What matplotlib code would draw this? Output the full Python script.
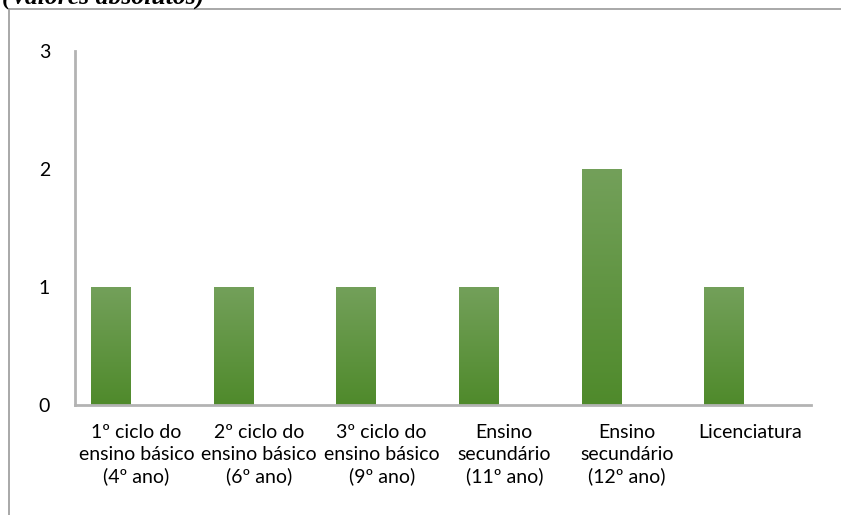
import matplotlib
matplotlib.use("Agg")
import matplotlib.pyplot as plt
import numpy as np
from matplotlib.colors import LinearSegmentedColormap
from matplotlib.lines import Line2D

categories = ["1º ciclo do\nensino básico\n(4º ano)",
              "2º ciclo do\nensino básico\n(6º ano)",
              "3º ciclo do\nensino básico\n(9º ano)",
              "Ensino\nsecundário\n(11º ano)",
              "Ensino\nsecundário\n(12º ano)",
              "Licenciatura"]
values = [1, 1, 1, 1, 2, 1]
yticks = [0, 1, 2, 3]

W, H = 841, 515
fig = plt.figure(figsize=(W / 100, H / 100), dpi=100)
ax = fig.add_axes([75 / W, (H - 405) / H, (811 - 75) / W, (405 - 51) / H])

x = np.arange(len(categories))
bars = ax.bar(x - 0.21, values, width=0.32, color="none", edgecolor="none", zorder=2)
cmap = LinearSegmentedColormap.from_list("g", ["#4f8a2b", "#73a05a"])
grad = np.linspace(0, 1, 256).reshape(-1, 1)
for b in bars:
    bx, by = b.get_x(), b.get_y()
    bw, bh = b.get_width(), b.get_height()
    im = ax.imshow(grad, cmap=cmap, origin="lower", aspect="auto",
                   extent=[bx, bx + bw, by, by + bh], zorder=2)
    im.set_clip_path(b)

ax.set_xlim(-0.5, len(categories) - 0.5)
ax.set_ylim(0, 3)
ax.set_yticks(yticks)
ax.set_yticklabels([str(t) for t in yticks])
ax.set_xticks(x)
ax.set_xticklabels(categories, linespacing=1.3)
for s in ["top", "right"]:
    ax.spines[s].set_visible(False)
for s in ["left", "bottom"]:
    ax.spines[s].set_color("#b3b3b3")
    ax.spines[s].set_linewidth(2)
ax.tick_params(axis="both", length=0, labelsize=14, colors="black")
ax.tick_params(axis="y", pad=18)
ax.tick_params(axis="x", pad=14)
for lab in ax.get_xticklabels() + ax.get_yticklabels():
    lab.set_fontfamily("Lato")

# outer frame
fig.add_artist(Line2D([8.5 / W, 8.5 / W], [0, 1 - 9 / H], transform=fig.transFigure,
                      color="#999999", lw=1.2))
fig.add_artist(Line2D([8.5 / W, 1], [1 - 9 / H, 1 - 9 / H], transform=fig.transFigure,
                      color="#999999", lw=1.2))

fig.text(2 / W, 1 - 4 / H, "(Valores absolutos)", family="Liberation Serif",
         weight="bold", style="italic", fontsize=18.5, va="baseline", ha="left")

fig.savefig("out.png", dpi=100)
